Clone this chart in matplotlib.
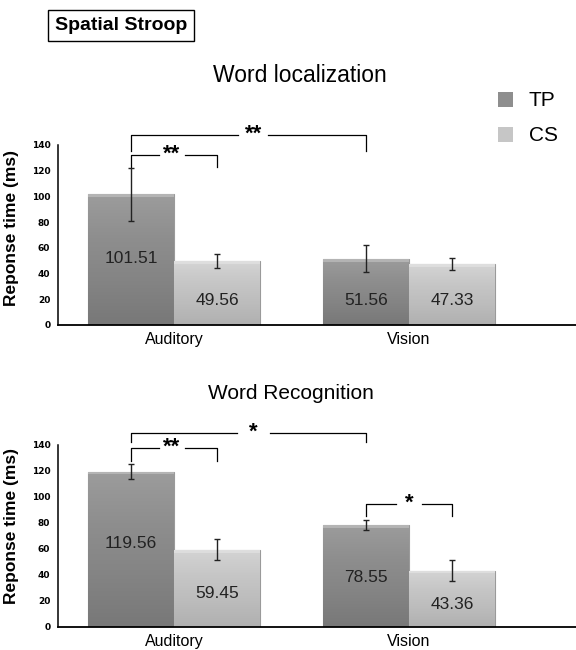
import numpy as np
import matplotlib
matplotlib.use('Agg')
import matplotlib.pyplot as plt
from matplotlib.patches import Rectangle

plt.rcParams['font.family'] = ['Liberation Sans', 'DejaVu Sans']

# data
groups = ['Auditory', 'Vision']
series = ['TP', 'CS']
loc_tp = [101.51, 51.56]
loc_cs = [49.56, 47.33]
loc_tp_err = [20.5, 10.5]
loc_cs_err = [5.5, 4.5]
rec_tp = [119.56, 78.55]
rec_cs = [59.45, 43.36]
rec_tp_err = [6.0, 4.0]
rec_cs_err = [8.0, 8.0]
loc_label_y = [[52, 19], [19, 19]]
rec_label_y = [[64, 26], [38, 17]]

tp_shades = ['#787878', '#848484', '#8e8e8e', '#9c9c9c']
cs_shades = ['#b0b0b0', '#bcbcbc', '#c6c6c6', '#d4d4d4']

bar_w = 0.366


def grad_bar(ax, x, h, shades):
    # bar with a gradient to mimic the 3D-ish look
    r = Rectangle((x - bar_w / 2, 0), bar_w, h, facecolor=shades[1],
                  edgecolor='#9a9a9a', linewidth=0.8, zorder=2)
    ax.add_patch(r)
    cmap = matplotlib.colors.LinearSegmentedColormap.from_list('g', shades)
    grad = np.linspace(0, 1, 100).reshape(-1, 1)
    im = ax.imshow(grad, cmap=cmap, origin='lower', aspect='auto',
                   extent=(x - bar_w / 2, x + bar_w / 2, 0, h), zorder=2)
    im.set_clip_path(r)
    # light top rim
    ax.add_patch(Rectangle((x - bar_w / 2, h - 2.2), bar_w, 2.2,
                           facecolor='white', alpha=0.25, linewidth=0, zorder=3))


def bracket(ax, x1, x2, y, drop, stars, gap, shift=0.0, fs=16):
    xm = (x1 + x2) / 2 + shift
    kw = dict(color='black', lw=0.9, clip_on=False, zorder=4)
    ax.plot([x1, x1, xm - gap], [y - drop, y, y], **kw)
    ax.plot([xm + gap, x2, x2], [y, y, y - drop], **kw)
    ax.annotate(stars, (xm, y), xytext=(0, -3), textcoords='offset points',
                ha='center', va='baseline', fontsize=fs, fontweight='bold',
                annotation_clip=False)


def panel(ax, tp, cs, tp_err, cs_err, label_y, ylab_y):
    xs = np.arange(len(groups))
    for i in xs:
        grad_bar(ax, i - bar_w / 2, tp[i], tp_shades)
        grad_bar(ax, i + bar_w / 2, cs[i], cs_shades)
        ax.errorbar(i - bar_w / 2, tp[i], yerr=tp_err[i], fmt='none',
                    ecolor='#222222', elinewidth=1, capsize=2.5, zorder=5)
        ax.errorbar(i + bar_w / 2, cs[i], yerr=cs_err[i], fmt='none',
                    ecolor='#222222', elinewidth=1, capsize=2.5, zorder=5)
        ax.text(i - bar_w / 2, label_y[i][0], f'{tp[i]:.2f}', ha='center',
                va='center', fontsize=12.5, color='#222222', zorder=6)
        ax.text(i + bar_w / 2, label_y[i][1], f'{cs[i]:.2f}', ha='center',
                va='center', fontsize=12.5, color='#222222', zorder=6)
    ax.set_xlim(-0.494, 1.711)
    ax.set_ylim(0, 140)
    ax.set_yticks(range(0, 141, 20))
    ax.set_xticks(xs)
    ax.set_xticklabels(groups, fontsize=11.5)
    ax.tick_params(axis='x', length=0, pad=5)
    ax.tick_params(axis='y', length=0, pad=5.5)
    for lab in ax.get_yticklabels():
        lab.set_fontsize(6.5)
        lab.set_fontweight('bold')
        lab.set_family('DejaVu Sans')
    ax.spines['top'].set_visible(False)
    ax.spines['right'].set_visible(False)
    ax.spines['left'].set_linewidth(1.1)
    ax.spines['bottom'].set_linewidth(1.3)
    ax.set_ylabel('Reponse time (ms)', fontsize=12.5, fontweight='bold')
    ax.yaxis.set_label_coords(-0.075, ylab_y)


fig = plt.figure(figsize=(5.76, 6.5), dpi=100)
ax1 = fig.add_axes([0.1007, 0.5, 0.8993, 0.277])
ax2 = fig.add_axes([0.1007, 0.0354, 0.8993, 0.28])

panel(ax1, loc_tp, loc_cs, loc_tp_err, loc_cs_err, loc_label_y, 0.54)
panel(ax2, rec_tp, rec_cs, rec_tp_err, rec_cs_err, rec_label_y, 0.555)

fig.text(300 / 576, 1 - 75 / 650, 'Word localization', fontsize=16.5,
         ha='center', va='center')
fig.text(291 / 576, 1 - 393 / 650, 'Word Recognition', fontsize=15,
         ha='center', va='center')

tpx = -bar_w / 2
csx = bar_w / 2
bracket(ax1, tpx, 1 - bar_w / 2, 147.5, 12, '**', gap=0.064, shift=0.02)
bracket(ax1, tpx, csx, 132, 9, '**', gap=0.055, shift=-0.01)
bracket(ax2, tpx, 1 - bar_w / 2, 149, 7, '*', gap=0.07, shift=0.02)
bracket(ax2, tpx, csx, 137.5, 9.5, '**', gap=0.055, shift=-0.01)
bracket(ax2, 1 - bar_w / 2, 1 + bar_w / 2, 94.5, 9.5, '*', gap=0.055)

# legend
for k, (name, col) in enumerate(zip(series, [tp_shades[2], cs_shades[2]])):
    y = 0.846 - k * 0.054
    fig.patches.append(Rectangle((0.864, y - 0.011), 0.027, 0.024,
                                 facecolor=col, edgecolor='none',
                                 transform=fig.transFigure, figure=fig))
    fig.text(0.918, y, name, fontsize=15, va='center', ha='left')

fig.text(55 / 576, 1 - 25 / 650, 'Spatial Stroop', fontsize=14, fontweight='bold',
         va='center', ha='left',
         bbox=dict(boxstyle='square,pad=0.36', facecolor='white',
                   edgecolor='black', linewidth=1))

fig.savefig('out.png', dpi=100)
